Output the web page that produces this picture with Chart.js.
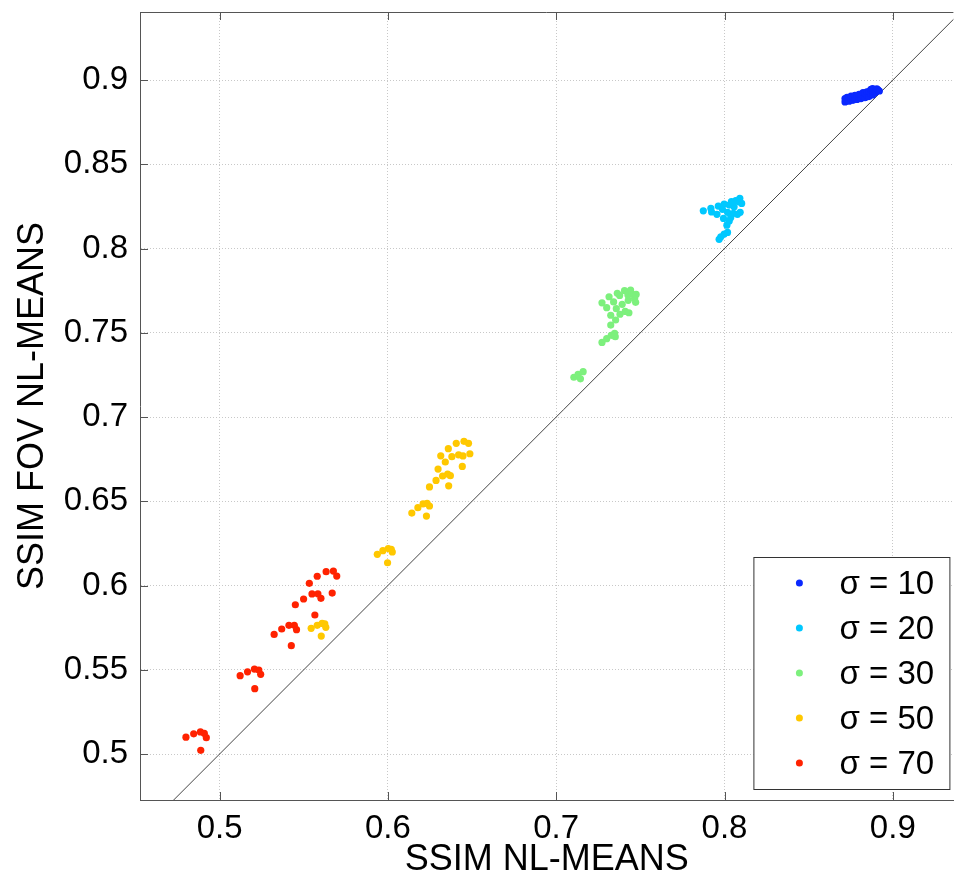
<!DOCTYPE html>
<html>
<head>
<meta charset="utf-8">
<script src="https://cdn.jsdelivr.net/npm/chart.js@4/dist/chart.umd.min.js"></script>
<style>
  html, body { margin: 0; padding: 0; background: #fff; }
  canvas { display: block; }
</style>
</head>
<body>
<canvas id="ssimChart" width="957" height="879"></canvas>
<script>
// noise levels, one scatter series each
const sigmas = [10, 20, 30, 50, 70];
const colors = ['#0a28ff', '#00c8ff', '#7df07d', '#ffc800', '#ff2200'];

// SSIM of plain NL-means (x) vs foveated NL-means (y)
const s10x = [0.8716, 0.8716, 0.8728, 0.8728, 0.8740, 0.8740, 0.8752, 0.8752, 0.8763, 0.8763, 0.8775, 0.8775, 0.8787, 0.8787, 0.8799, 0.8799, 0.8811, 0.8811, 0.8823, 0.8823, 0.8835, 0.8835, 0.8846, 0.8846, 0.8858, 0.8858, 0.8870, 0.8870, 0.8880, 0.8880, 0.8880, 0.8895, 0.8900, 0.8905, 0.8912, 0.8920];
const s10y = [0.8870, 0.8890, 0.8882, 0.8898, 0.8875, 0.8895, 0.8888, 0.8905, 0.8880, 0.8900, 0.8893, 0.8910, 0.8885, 0.8907, 0.8898, 0.8915, 0.8890, 0.8915, 0.8905, 0.8925, 0.8895, 0.8922, 0.8912, 0.8930, 0.8902, 0.8932, 0.8918, 0.8945, 0.8912, 0.8938, 0.8950, 0.8925, 0.8940, 0.8948, 0.8942, 0.8935];

const s20x = [0.7874, 0.7919, 0.7923, 0.7955, 0.7963, 0.7988, 0.7998, 0.8018, 0.7994, 0.8028, 0.8041, 0.8057, 0.8067, 0.8087, 0.8102, 0.8053, 0.8077, 0.8093, 0.8037, 0.8028, 0.8014, 0.8018, 0.7998, 0.7978, 0.7968, 0.8091];
const s20y = [0.8224, 0.8238, 0.8217, 0.8203, 0.8252, 0.8233, 0.8264, 0.8215, 0.8179, 0.8258, 0.8278, 0.8248, 0.8284, 0.8278, 0.8268, 0.8209, 0.8203, 0.8215, 0.8185, 0.8163, 0.8139, 0.8096, 0.8086, 0.8070, 0.8055, 0.8298];

const s30x = [0.7105, 0.7130, 0.7160, 0.7144, 0.7272, 0.7300, 0.7327, 0.7347, 0.7351, 0.7324, 0.7353, 0.7379, 0.7410, 0.7432, 0.7324, 0.7357, 0.7392, 0.7428, 0.7466, 0.7472, 0.7272, 0.7300, 0.7314, 0.7341, 0.7363, 0.7377, 0.7406, 0.7442, 0.7426, 0.7450, 0.7475];
const s30y = [0.7236, 0.7253, 0.7269, 0.7227, 0.7443, 0.7465, 0.7485, 0.7497, 0.7477, 0.7546, 0.7576, 0.7610, 0.7627, 0.7619, 0.7604, 0.7643, 0.7669, 0.7693, 0.7704, 0.7681, 0.7678, 0.7649, 0.7714, 0.7683, 0.7734, 0.7722, 0.7750, 0.7754, 0.7724, 0.7730, 0.7728];

const s50x = [0.5544, 0.5580, 0.5609, 0.5625, 0.5631, 0.5604, 0.5937, 0.5970, 0.6002, 0.6020, 0.6026, 0.5998, 0.6142, 0.6178, 0.6209, 0.6233, 0.6247, 0.6229, 0.6247, 0.6286, 0.6298, 0.6325, 0.6355, 0.6371, 0.6361, 0.6314, 0.6341, 0.6359, 0.6380, 0.6406, 0.6420, 0.6446, 0.6442, 0.6452, 0.6479, 0.6487];
const s50y = [0.5746, 0.5764, 0.5775, 0.5772, 0.5752, 0.5700, 0.6185, 0.6207, 0.6219, 0.6215, 0.6199, 0.6135, 0.6430, 0.6462, 0.6484, 0.6488, 0.6472, 0.6412, 0.6585, 0.6624, 0.6691, 0.6650, 0.6662, 0.6652, 0.6592, 0.6770, 0.6733, 0.6812, 0.6765, 0.6844, 0.6776, 0.6769, 0.6707, 0.6856, 0.6844, 0.6782];

const s70x = [0.4800, 0.4846, 0.4886, 0.4909, 0.4921, 0.4888, 0.5122, 0.5166, 0.5207, 0.5233, 0.5244, 0.5209, 0.5324, 0.5369, 0.5412, 0.5444, 0.5457, 0.5426, 0.5450, 0.5499, 0.5533, 0.5549, 0.5584, 0.5602, 0.5580, 0.5633, 0.5676, 0.5696, 0.5669, 0.5566];
const s70y = [0.5100, 0.5120, 0.5131, 0.5123, 0.5097, 0.5022, 0.5465, 0.5488, 0.5504, 0.5498, 0.5473, 0.5388, 0.5710, 0.5742, 0.5764, 0.5764, 0.5738, 0.5643, 0.5886, 0.5920, 0.6013, 0.5950, 0.5951, 0.5924, 0.6055, 0.6082, 0.6086, 0.6056, 0.5955, 0.5825];

const seriesX = [s10x, s20x, s30x, s50x, s70x];
const seriesY = [s10y, s20y, s30y, s50y, s70y];

const FONT = '"Liberation Sans", Arial, Helvetica, sans-serif';
const AXIS_COLOR = '#555';

const pairs = (xs, ys) => xs.map((x, i) => ({ x: x, y: ys[i] }));

const datasets = sigmas.map((s, i) => ({
    type: 'scatter',
    label: 'σ = ' + s,
    data: pairs(seriesX[i], seriesY[i]),
    backgroundColor: colors[i],
    borderWidth: 0,
    pointRadius: 3.6,
    pointHoverRadius: 3.6
}));

// y = x reference line
datasets.push({
    type: 'line',
    label: 'identity',
    data: [{ x: 0.4, y: 0.4 }, { x: 1, y: 1 }],
    borderColor: '#444',
    borderWidth: 1,
    pointRadius: 0,
    fill: false
});

// frame, inward tick marks and boxed legend
const framePlugin = {
    id: 'frame',
    afterDraw(chart) {
        const { ctx, chartArea: a, scales: { x, y } } = chart;
        ctx.save();
        ctx.strokeStyle = AXIS_COLOR;
        ctx.lineWidth = 1;
        ctx.beginPath();
        ctx.moveTo(a.left, a.top + 0.5);
        ctx.lineTo(a.right, a.top + 0.5);
        x.ticks.forEach(t => {
            const px = Math.round(x.getPixelForValue(t.value)) + 0.5;
            ctx.moveTo(px, a.bottom);
            ctx.lineTo(px, a.bottom - 8);
            ctx.moveTo(px, a.top);
            ctx.lineTo(px, a.top + 8);
        });
        y.ticks.forEach(t => {
            const py = Math.round(y.getPixelForValue(t.value)) + 0.5;
            ctx.moveTo(a.left, py);
            ctx.lineTo(a.left + 8, py);
        });
        ctx.stroke();

        // legend box
        const series = chart.data.datasets.filter(d => d.type === 'scatter');
        const boxR = a.right - 4, boxB = a.bottom - 11;
        const boxL = boxR - 196, boxT = boxB - 232;
        ctx.fillStyle = '#fff';
        ctx.fillRect(boxL, boxT, boxR - boxL, boxB - boxT);
        ctx.strokeStyle = '#333';
        ctx.strokeRect(boxL + 0.5, boxT + 0.5, boxR - boxL, boxB - boxT);
        ctx.font = '33px ' + FONT;
        ctx.textBaseline = 'middle';
        ctx.textAlign = 'left';
        series.forEach((d, i) => {
            const cy = boxT + 26 + i * 45;
            ctx.fillStyle = d.backgroundColor;
            ctx.beginPath();
            ctx.arc(boxL + 46, cy, 3.5, 0, Math.PI * 2);
            ctx.fill();
            ctx.fillStyle = '#000';
            ctx.fillText(d.label, boxL + 86, cy + 2);
        });
        ctx.restore();
    }
};

const tickLabel = v => String(Number(v.toFixed(2)));

new Chart(document.getElementById('ssimChart'), {
    data: { datasets: datasets },
    options: {
        responsive: false,
        animation: false,
        layout: { padding: { top: 12, right: 0, left: 0, bottom: 0 } },
        plugins: {
            legend: { display: false },
            tooltip: { enabled: false }
        },
        scales: {
            x: {
                type: 'linear',
                position: 'bottom',
                min: 0.4527,
                max: 0.936,
                afterFit: s => {
                    s.height = 79;
                    s.paddingLeft = 0;
                    s.paddingRight = 0;
                },
                ticks: {
                    stepSize: 0.1,
                    includeBounds: false,
                    padding: 9,
                    color: '#000',
                    font: { family: FONT, size: 33 },
                    callback: tickLabel
                },
                grid: { color: '#c8c8c8', lineWidth: 1, drawTicks: false },
                border: { display: true, color: AXIS_COLOR, width: 1, dash: [1, 2] },
                title: {
                    display: true,
                    text: 'SSIM NL-MEANS',
                    color: '#000',
                    font: { family: FONT, size: 36, lineHeight: 1 },
                    padding: { top: 0, bottom: 1 }
                }
            },
            y: {
                type: 'linear',
                position: 'left',
                min: 0.4727,
                max: 0.9404,
                afterFit: s => {
                    s.width = 140;
                    s.paddingTop = 0;
                    s.paddingBottom = 0;
                },
                ticks: {
                    stepSize: 0.05,
                    includeBounds: false,
                    padding: 12,
                    color: '#000',
                    font: { family: FONT, size: 33 },
                    callback: tickLabel
                },
                grid: { color: '#c8c8c8', lineWidth: 1, drawTicks: false },
                border: { display: true, color: AXIS_COLOR, width: 1, dash: [1, 2] },
                title: {
                    display: true,
                    text: 'SSIM FOV NL-MEANS',
                    color: '#000',
                    font: { family: FONT, size: 36, lineHeight: 1 },
                    padding: { top: 15, bottom: 0 }
                }
            }
        }
    },
    plugins: [framePlugin]
});
</script>
</body>
</html>
